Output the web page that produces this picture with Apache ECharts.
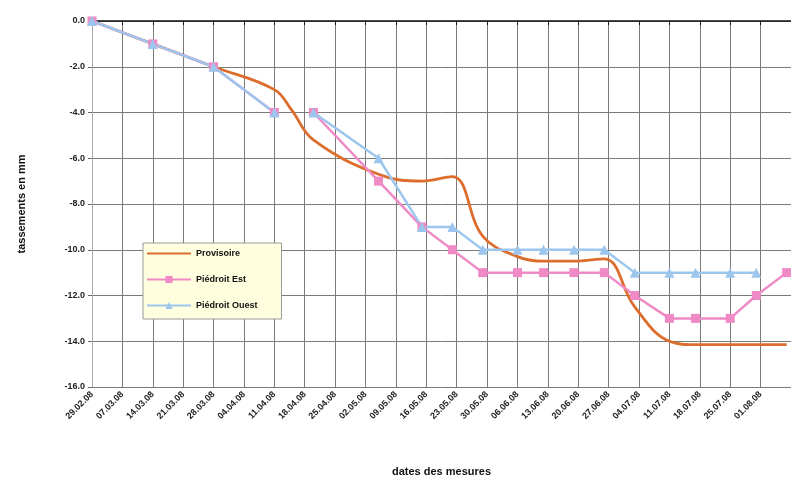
<!DOCTYPE html>
<html>
<head>
<meta charset="utf-8">
<script src="https://cdn.jsdelivr.net/npm/echarts@6/dist/echarts.min.js"></script>
<style>html,body{margin:0;padding:0;background:#fff;}#c{width:791px;height:486px;}</style>
</head>
<body>
<div id="c"></div>
<script>
// ---- data ----
const startDate = '29.02.08';
const tickDays = 7;
const endDay = 161;
const dates = ['29.02.08','14.03.08','28.03.08','11.04.08','15.04.08','20.04.08','05.05.08','15.05.08','22.05.08','29.05.08','06.06.08','12.06.08','19.06.08','26.06.08','03.07.08','11.07.08','17.07.08','25.07.08','31.07.08','07.08.08'];
const provisoire = [0, -1, -2, -3.0, -3.9, -5.2, -6.7, -7.0, -6.8, -9.4, -10.3, -10.5, -10.5, -10.4, -12.5, -14.0, -14.15, -14.15, -14.15, -14.15];
const piedroitEst = [0, -1, -2, -4, null, -4, -7, -9, -10, -11, -11, -11, -11, -11, -12, -13, -13, -13, -12, -11];
const piedroitOuest = [0, -1, -2, -4, null, -4, -6, -9, -9, -10, -10, -10, -10, -10, -11, -11, -11, -11, -11, null];
const seriesNames = ['Provisoire', 'Piédroit Est', 'Piédroit Ouest'];

function parseD(s){ const p = s.split('.'); return Date.UTC(2000 + (+p[2]), (+p[1]) - 1, +p[0]); }
const t0 = parseD(startDate);
const DAY = 86400000;
function dayOf(s){ return Math.round((parseD(s) - t0) / DAY); }
function fmtDay(d){
  const dt = new Date(t0 + d * DAY);
  const dd = String(dt.getUTCDate()).padStart(2,'0');
  const mm = String(dt.getUTCMonth() + 1).padStart(2,'0');
  const yy = String(dt.getUTCFullYear() % 100).padStart(2,'0');
  return dd + '.' + mm + '.' + yy;
}
function pairs(vals){ return dates.map((d,i) => [dayOf(d), vals[i]]); }

const font = 'Liberation Sans, Arial, sans-serif';
const chart = echarts.init(document.getElementById('c'));
chart.setOption({
  animation: false,
  backgroundColor: '#fff',
  grid: { left: 92, right: 0, top: 21, bottom: 99, containLabel: false },
  legend: {
    orient: 'vertical', left: 143, top: 243,
    data: [
      { name: seriesNames[0], itemStyle: { opacity: 0 } },
      { name: seriesNames[1] },
      { name: seriesNames[2] }
    ],
    backgroundColor: '#ffffe0', borderColor: '#999', borderWidth: 1, borderRadius: 0,
    padding: [6, 24, 9, 3], itemGap: 17, itemWidth: 44, itemHeight: 9,
    textStyle: { fontFamily: font, fontSize: 9, fontWeight: 'bold', color: '#111' }
  },
  xAxis: {
    type: 'value', min: 0, max: endDay, interval: tickDays,
    name: 'dates des mesures', nameLocation: 'middle', nameGap: 79,
    nameTextStyle: { fontFamily: font, fontSize: 11, fontWeight: 'bold', color: '#111' },
    axisLine: { show: true, lineStyle: { color: '#111', width: 1.5 } },
    axisTick: { show: true, length: 4, lineStyle: { color: '#111' } },
    splitLine: { show: true, lineStyle: { color: '#7a7a7a', width: 1 } },
    axisLabel: { rotate: 45, fontFamily: font, fontSize: 9, fontWeight: 'bold', color: '#222', margin: 6,
      showMaxLabel: false, formatter: v => fmtDay(v) }
  },
  yAxis: {
    type: 'value', min: -16, max: 0, interval: 2,
    name: 'tassements en mm', nameLocation: 'middle', nameGap: 65, nameRotate: 90,
    nameTextStyle: { fontFamily: font, fontSize: 11, fontWeight: 'bold', color: '#111' },
    axisLine: { show: true, lineStyle: { color: '#aaa', width: 1 } },
    axisTick: { show: true, length: 4, lineStyle: { color: '#666' } },
    splitLine: { show: true, lineStyle: { color: '#7a7a7a', width: 1 } },
    axisLabel: { fontFamily: font, fontSize: 9, fontWeight: 'bold', color: '#222', margin: 7,
      formatter: v => v.toFixed(1) }
  },
  series: [
    { name: seriesNames[0], type: 'line', data: pairs(provisoire), smooth: 0.4,
      symbol: 'none', connectNulls: false,
      lineStyle: { color: '#dd6d2c', width: 2.8 }, itemStyle: { color: '#dd6d2c' } },
    { name: seriesNames[1], type: 'line', data: pairs(piedroitEst), connectNulls: false,
      symbol: 'rect', symbolSize: 9,
      lineStyle: { color: '#f08ac6', width: 2.5 }, itemStyle: { color: '#f08ac6' } },
    { name: seriesNames[2], type: 'line', data: pairs(piedroitOuest), connectNulls: false,
      symbol: 'triangle', symbolSize: 10,
      lineStyle: { color: '#9cc6ee', width: 2.5 }, itemStyle: { color: '#9cc6ee' } }
  ]
});
</script>
</body>
</html>
